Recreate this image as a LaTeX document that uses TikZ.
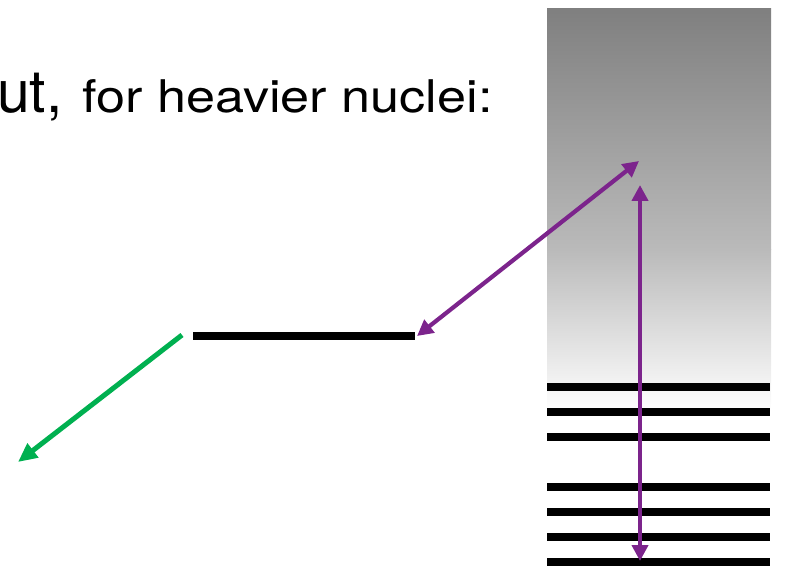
\documentclass[tikz,border=0pt]{standalone}
\usepackage{fontspec}
\setmainfont{TeX Gyre Heros}
\usetikzlibrary{arrows.meta}
\definecolor{myPurple}{RGB}{124,36,140}
\definecolor{myGreen}{RGB}{0,176,80}
\begin{document}
\begin{tikzpicture}[x=1pt,y=-1pt,
  level/.style={line width=8pt,black},
  parrow/.style={line width=4.2pt,myPurple,{Triangle[length=16pt,width=16pt]}-{Triangle[length=16pt,width=16pt]}},
  garrow/.style={line width=5pt,myGreen,-{Triangle[length=19pt,width=17pt]}}]
\useasboundingbox (0,0) rectangle (789,577);
% gradient box
\shade[top color=black!50,bottom color=black!27] (547,9) rectangle (771,250);
\shade[top color=black!27,bottom color=white] (547,249.5) rectangle (771,412);
% text
\node[anchor=base east,inner sep=0] (ut) at (63,113)
  {\fontsize{59}{70}\selectfont ut,};
\node[anchor=base west,inner sep=0,xscale=1.16] (title) at (82,113)
  {\fontsize{45}{54}\selectfont for heavier nuclei:};
% levels on the right
\foreach \y/\n in {386.7/a,411.7/b,436.7/c,486.7/d,511.7/e,536.7/f,561.7/g}{
  \coordinate (L\n w) at (547,\y);
  \coordinate (L\n e) at (770,\y);
  \draw[level] (L\n w) -- (L\n e);
}
% isolated level
\coordinate (Sw) at (193,336);
\coordinate (Se) at (415,336);
\draw[level] (Sw) -- (Se);
% purple arrows
\coordinate (P1) at (417,336);
\coordinate (P2) at (639,161);
\draw[parrow] (P1) -- (P2);
\coordinate (V1) at (640,185);
\coordinate (V2) at (640,561);
\draw[parrow] (V1) -- (V2);
% green arrow
\coordinate (G1) at (182,335);
\coordinate (G2) at (18,462);
\draw[garrow] (G1) -- (G2);
\end{tikzpicture}
\end{document}
